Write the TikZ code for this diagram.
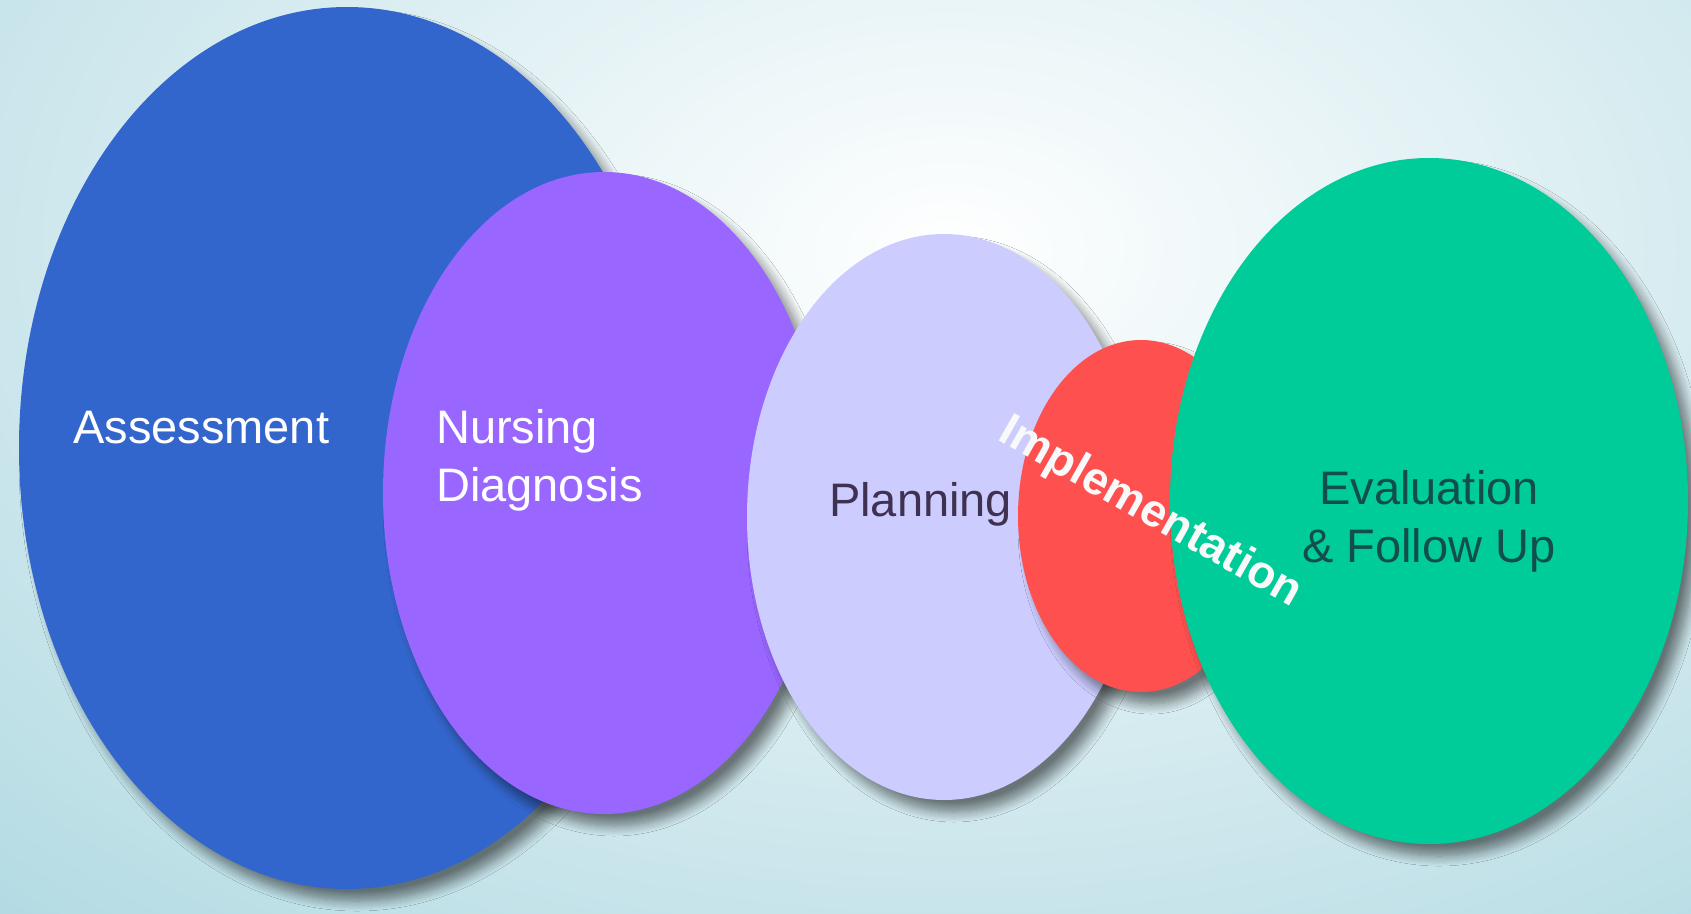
\documentclass[tikz,border=0pt]{standalone}
\usepackage{fontspec}
\setmainfont{Liberation Sans}
\usetikzlibrary{shapes.geometric,shadows.blur}

\definecolor{bgblue}{HTML}{A3D3DD}
\definecolor{assessblue}{HTML}{3366CC}
\definecolor{diagpurple}{HTML}{9966FF}
\definecolor{planlilac}{HTML}{CCCCFF}
\definecolor{implred}{HTML}{FF5050}
\definecolor{evalgreen}{HTML}{00CC99}
\definecolor{plantext}{HTML}{3F3151}
\definecolor{evaltext}{HTML}{124F4A}

\begin{document}
\begin{tikzpicture}[x=1pt,y=-1pt,
  phase/.style={ellipse,inner sep=0pt,
    blur shadow={shadow xshift=10pt,shadow yshift=-12pt,shadow blur steps=10,
      shadow blur radius=10pt,shadow opacity=50}},
  label/.style={font=\fontsize{47}{58}\selectfont,align=left,inner sep=0pt}]
  \useasboundingbox (0,0) rectangle (1691,913);
  \shade[inner color=white,outer color=bgblue] (-750,-850) rectangle (2650,1350);

  % the five phases, back to front
  \node[phase,fill=assessblue,minimum width=656,minimum height=882] (assess) at (347,448) {};
  \node[phase,fill=diagpurple,minimum width=442,minimum height=642] (diag) at (604,493) {};
  \node[phase,fill=planlilac,minimum width=394,minimum height=566] (plan) at (944,517) {};
  \node[phase,fill=implred,minimum width=246,minimum height=352] (impl) at (1141,516) {};
  \node[phase,fill=evalgreen,minimum width=518,minimum height=686] (eval) at (1429,501) {};

  \node[label,white,anchor=west] (assesstext) at (73,428) {Assessment};
  \node[label,white,anchor=west] (diagtext) at (436,460) {Nursing\\Diagnosis};
  \node[label,plantext,anchor=west] (plantext) at (829,504) {Planning};
  \node[label,evaltext,align=center] (evaltext) at (1429,521) {Evaluation\\\& Follow Up};
  \node[label,white!95!gray,font=\bfseries\fontsize{46}{52}\selectfont,rotate=-29.5]
    (impltext) at (1150,513) {Implementation};
\end{tikzpicture}
\end{document}
